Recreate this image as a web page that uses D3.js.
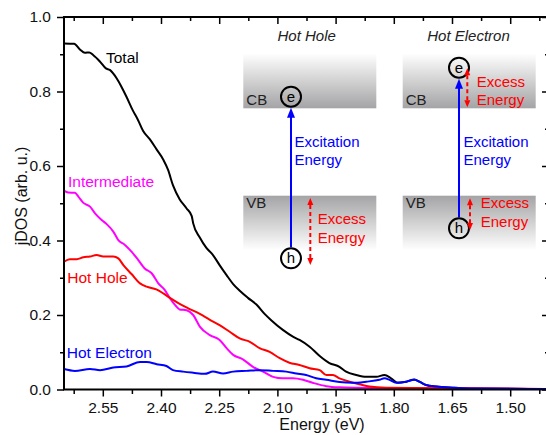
<!DOCTYPE html>
<html><head><meta charset="utf-8">
<script src="https://d3js.org/d3.v7.min.js"></script>
<style>
html,body{margin:0;padding:0;background:#fff;}
svg{display:block;font-family:"Liberation Sans",Arial,sans-serif;}
</style></head>
<body>
<svg id="chart" width="546" height="435"></svg>
<script>
// ---------- data (energy in eV, jDOS in arb. u.) ----------
const totalE = [2.650,2.624,2.609,2.596,2.585,2.575,2.557,2.542,2.532,2.514,2.502,2.489,2.473,2.459,2.446,2.429,2.411,2.394,2.382,2.369,2.352,2.334,2.321,2.317,2.300,2.283,2.266,2.249,2.231,2.214,2.197,2.176,2.154,2.133,2.116,2.086,2.060,2.043,2.017,1.991,1.966,1.940,1.923,1.897,1.871,1.845,1.824,1.807,1.790,1.768,1.747,1.734,1.717,1.691,1.648,1.605,1.402];
const totalY = [0.929,0.928,0.913,0.904,0.905,0.898,0.880,0.862,0.858,0.835,0.813,0.786,0.750,0.723,0.694,0.672,0.644,0.617,0.590,0.548,0.511,0.486,0.466,0.446,0.408,0.380,0.361,0.334,0.307,0.283,0.265,0.246,0.228,0.203,0.186,0.160,0.142,0.133,0.115,0.090,0.071,0.061,0.048,0.039,0.034,0.034,0.039,0.030,0.018,0.021,0.027,0.021,0.012,0.008,0.005,0.003,0.001];

const interE = [2.650,2.639,2.622,2.613,2.600,2.583,2.570,2.553,2.540,2.523,2.510,2.493,2.476,2.459,2.442,2.424,2.407,2.390,2.377,2.364,2.352,2.334,2.317,2.300,2.274,2.249,2.231,2.214,2.189,2.163,2.137,2.111,2.086,2.060,2.034,2.009,1.974,1.940,1.855,1.657,1.402];
const interY = [0.534,0.529,0.528,0.518,0.501,0.491,0.473,0.455,0.444,0.424,0.401,0.388,0.370,0.348,0.325,0.312,0.285,0.267,0.245,0.227,0.215,0.213,0.200,0.169,0.146,0.133,0.111,0.093,0.081,0.061,0.048,0.034,0.030,0.030,0.026,0.018,0.009,0.006,0.004,0.003,0.001];

const holeE = [2.650,2.635,2.617,2.600,2.583,2.566,2.549,2.523,2.510,2.497,2.476,2.454,2.437,2.412,2.394,2.377,2.352,2.330,2.300,2.274,2.249,2.223,2.197,2.171,2.146,2.120,2.094,2.069,2.043,2.017,1.991,1.974,1.957,1.940,1.914,1.888,1.863,1.820,1.605,1.402];
const holeY = [0.343,0.350,0.350,0.355,0.357,0.361,0.357,0.357,0.352,0.334,0.310,0.285,0.276,0.269,0.258,0.246,0.230,0.218,0.203,0.187,0.173,0.155,0.137,0.128,0.111,0.101,0.084,0.072,0.066,0.057,0.052,0.039,0.039,0.030,0.021,0.014,0.008,0.005,0.003,0.001];

const elecE = [2.650,2.622,2.583,2.557,2.523,2.489,2.454,2.437,2.411,2.386,2.369,2.343,2.317,2.287,2.266,2.240,2.214,2.180,2.146,2.111,2.077,2.051,2.026,2.000,1.974,1.940,1.906,1.871,1.837,1.824,1.811,1.794,1.768,1.747,1.734,1.717,1.691,1.648,1.605,1.402];
const elecY = [0.055,0.050,0.055,0.052,0.059,0.062,0.074,0.074,0.068,0.063,0.052,0.048,0.045,0.042,0.048,0.043,0.048,0.050,0.052,0.050,0.048,0.043,0.039,0.030,0.026,0.020,0.018,0.021,0.026,0.030,0.026,0.018,0.021,0.026,0.021,0.012,0.008,0.005,0.003,0.001];

const seriesNames = ["Total","Intermediate","Hot Hole","Hot Electron"];
const xTickValues = [2.55,2.40,2.25,2.10,1.95,1.80,1.65,1.50];
const xMinorValues = [2.625,2.475,2.325,2.175,2.025,1.875,1.725,1.575,1.425];
const yTickValues = [0.0,0.2,0.4,0.6,0.8,1.0];
const yMinorValues = [0.1,0.3,0.5,0.7,0.9];
const xTitle = "Energy (eV)";
const yTitle = "jDOS (arb. u.)";

// ---------- layout ----------
const svg = d3.select("#chart");
const L = 64, R = 549, T = 17, B = 389.5;
const x = d3.scaleLinear().domain([2.65, 1.40]).range([L, R]);
const y = d3.scaleLinear().domain([0, 1]).range([B, T]);

const colors = ["#000000", "#ff00ff", "#ff0000", "#0000ff"];
const seriesData = [
  d3.zip(totalE, totalY),
  d3.zip(interE, interY),
  d3.zip(holeE, holeY),
  d3.zip(elecE, elecY)
];

// ---------- inset diagrams ----------
const defs = svg.append("defs");
const gCB = defs.append("linearGradient").attr("id","gcb").attr("x1",0).attr("y1",0).attr("x2",0).attr("y2",1);
gCB.append("stop").attr("offset","0%").attr("stop-color","#ffffff");
gCB.append("stop").attr("offset","100%").attr("stop-color","#a4a4a6");
const gVB = defs.append("linearGradient").attr("id","gvb").attr("x1",0).attr("y1",0).attr("x2",0).attr("y2",1);
gVB.append("stop").attr("offset","0%").attr("stop-color","#a4a4a6");
gVB.append("stop").attr("offset","100%").attr("stop-color","#ffffff");

function arrowHead(g, cx, tipY, dir, w, h, color) {
  const baseY = tipY - dir * h;
  g.append("path")
    .attr("d", `M${cx},${tipY} L${cx - w/2},${baseY} L${cx + w/2},${baseY} Z`)
    .attr("fill", color);
}

const inset = svg.append("g");
const panels = [
  {x0: 243.3, title: "Hot Hole", tx: 306.7, ex: 291, ey: 96.7, hx: 291, hy: 258.3,
   blueX: 294.5,
   red: [{x: 310.3, y0: 198, y1: 265, tx: 317.7, b1: 224, b2: 242.7}]},
  {x0: 402.7, title: "Hot Electron", tx: 468.5, ex: 459, ey: 67.7, hx: 459, hy: 228.3,
   blueX: 463.5,
   red: [{x: 467.3, y0: 68.3, y1: 107.3, tx: 476.7, b1: 86.7, b2: 105},
         {x: 470, y0: 198.3, y1: 230, tx: 480.7, b1: 208.3, b2: 226.7}]}
];
const boxW = 133;
panels.forEach(p => {
  inset.append("rect").attr("x", p.x0).attr("y", 53.3).attr("width", boxW).attr("height", 55).attr("fill","url(#gcb)");
  inset.append("rect").attr("x", p.x0).attr("y", 195.7).attr("width", boxW).attr("height", 54.5).attr("fill","url(#gvb)");
  inset.append("text").attr("x", p.tx).attr("y", 40.7).attr("text-anchor","middle")
    .attr("font-size", 15).attr("font-style","italic").attr("fill","#222").text(p.title);
  inset.append("text").attr("x", p.x0 + 3).attr("y", 105).attr("font-size", 15).attr("fill","#222").text("CB");
  inset.append("text").attr("x", p.x0 + 3).attr("y", 208.3).attr("font-size", 15).attr("fill","#222").text("VB");
  const r = 10;
  inset.append("line").attr("x1", p.hx).attr("x2", p.ex).attr("y1", p.hy - r - 1).attr("y2", p.ey + r + 9)
    .attr("stroke","#0000ff").attr("stroke-width", 2);
  arrowHead(inset, p.ex, p.ey + r + 1, -1, 8, 10, "#0000ff");
  inset.append("text").attr("x", p.blueX).attr("y", 147.3).attr("font-size", 15).attr("fill","#0000ff").text("Excitation");
  inset.append("text").attr("x", p.blueX).attr("y", 165).attr("font-size", 15).attr("fill","#0000ff").text("Energy");
  [[p.ex, p.ey, "e"], [p.hx, p.hy, "h"]].forEach(([cx, cy, s]) => {
    inset.append("circle").attr("cx", cx).attr("cy", cy).attr("r", r)
      .attr("fill","none").attr("stroke","#000").attr("stroke-width", 2);
    inset.append("text").attr("x", cx).attr("y", cy + 5).attr("text-anchor","middle")
      .attr("font-size", 15).attr("fill","#000").text(s);
  });
  p.red.forEach(a => {
    inset.append("line").attr("x1", a.x).attr("x2", a.x).attr("y1", a.y0 + 7).attr("y2", a.y1 - 7)
      .attr("stroke","#ff0000").attr("stroke-width", 2).attr("stroke-dasharray","4,3");
    arrowHead(inset, a.x, a.y0, -1, 6, 7, "#ff0000");
    arrowHead(inset, a.x, a.y1, 1, 6, 7, "#ff0000");
    inset.append("text").attr("x", a.tx).attr("y", a.b1).attr("font-size", 15).attr("fill","#ff0000").text("Excess");
    inset.append("text").attr("x", a.tx).attr("y", a.b2).attr("font-size", 15).attr("fill","#ff0000").text("Energy");
  });
});

// ---------- curves ----------
const line = d3.line().x(d => x(d[0])).y(d => y(d[1])).curve(d3.curveMonotoneX);
const curveG = svg.append("g");
seriesData.forEach((s, i) => {
  curveG.append("path").datum(s).attr("d", line)
    .attr("fill","none").attr("stroke", colors[i]).attr("stroke-width", 2)
    .attr("stroke-linejoin","round");
});

const labelPos = [[106, 63], [68, 186.5], [67.3, 283.3], [66.7, 358.3]];
seriesNames.forEach((n, i) => {
  svg.append("text").attr("x", labelPos[i][0]).attr("y", labelPos[i][1])
    .attr("font-size", 15.5).attr("fill", colors[i]).text(n);
});

// ---------- axes ----------
const fmtX = d3.format(".2f"), fmtY = d3.format(".1f");
function styleAxis(g) {
  g.select(".domain").remove();
  g.selectAll("line").attr("stroke","#000").attr("stroke-width", 1.5);
  g.selectAll("text").attr("font-size", 15.5).attr("fill","#111")
    .attr("font-family","'Liberation Sans',Arial,sans-serif");
}
svg.append("g").attr("transform", `translate(0,${B})`)
  .call(d3.axisBottom(x).tickValues(xTickValues).tickFormat(fmtX).tickSize(7).tickPadding(5.5))
  .call(styleAxis);
svg.append("g").attr("transform", `translate(0,${B})`)
  .call(d3.axisBottom(x).tickValues(xMinorValues).tickFormat("").tickSize(4.5))
  .call(styleAxis);
svg.append("g").attr("transform", `translate(0,${T})`)
  .call(d3.axisBottom(x).tickValues(xTickValues).tickFormat("").tickSize(7)).call(styleAxis);
svg.append("g").attr("transform", `translate(0,${T})`)
  .call(d3.axisBottom(x).tickValues(xMinorValues).tickFormat("").tickSize(4)).call(styleAxis);
svg.append("g").attr("transform", `translate(${L},0)`)
  .call(d3.axisLeft(y).tickValues(yTickValues).tickFormat(fmtY).tickSize(7).tickPadding(6))
  .call(styleAxis);
svg.append("g").attr("transform", `translate(${L},0)`)
  .call(d3.axisLeft(y).tickValues(yMinorValues).tickFormat("").tickSize(4)).call(styleAxis);
svg.append("g").attr("transform", `translate(${R},0)`)
  .call(d3.axisLeft(y).tickValues(yTickValues).tickFormat("").tickSize(7)).call(styleAxis);
svg.append("g").attr("transform", `translate(${R},0)`)
  .call(d3.axisLeft(y).tickValues(yMinorValues).tickFormat("").tickSize(4)).call(styleAxis);

svg.append("rect").attr("x", L).attr("y", T).attr("width", R - L).attr("height", B - T)
  .attr("fill","none").attr("stroke","#000").attr("stroke-width", 2);

svg.append("text").attr("x", 322).attr("y", 430).attr("text-anchor","middle")
  .attr("font-size", 16).attr("fill","#111").text(xTitle);
svg.append("text").attr("transform", "translate(27,196) rotate(-90)").attr("text-anchor","middle")
  .attr("font-size", 16).attr("fill","#111").text(yTitle);
</script>
</body></html>
